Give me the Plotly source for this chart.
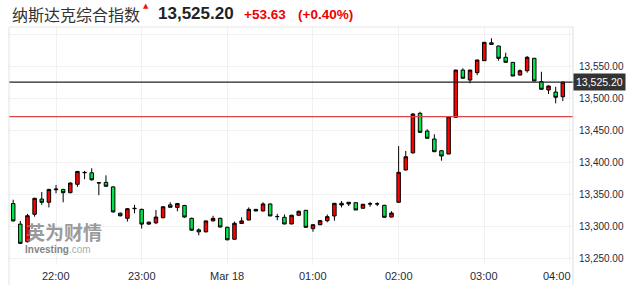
import pandas as pd
import plotly.graph_objects as go

# ---------------- data ----------------
times = pd.date_range("2021-03-17 21:30", periods=78, freq="5min")

opens = [13336, 13304, 13276.6, 13319.3, 13343, 13338, 13357.5, 13358, 13353, 13366,
         13384, 13384, 13368, 13369, 13362, 13321, 13313, 13328, 13327, 13304,
         13306, 13314, 13334, 13330, 13333, 13313, 13295, 13292, 13309, 13313,
         13299, 13280.4, 13305, 13310.4, 13327, 13324.5, 13335.4, 13315.6, 13314.6, 13304.2,
         13317.8, 13325.5, 13297, 13303, 13309.4, 13316.7, 13336.4, 13335.4, 13337.4, 13328.7,
         13335.4, 13335.4, 13333.3, 13315, 13338, 13388.3, 13415, 13476.6, 13449, 13436.6,
         13418.4, 13413.2, 13470.4, 13544, 13528.5, 13540, 13558.6, 13586.5, 13581.5, 13563.9,
         13556, 13536.3, 13543, 13562.3, 13525.9, 13513, 13509.8, 13502.5]
highs = [13342, 13309, 13320, 13345, 13354, 13359, 13365, 13359, 13369, 13387,
         13387, 13391, 13369, 13380, 13363, 13322, 13329, 13334, 13328, 13308,
         13326, 13332, 13338, 13337, 13334, 13314, 13297.5, 13309.5, 13317, 13314,
         13300, 13308, 13314.6, 13330, 13327.5, 13338, 13336, 13320, 13319, 13318.5,
         13325, 13326, 13303.5, 13309.8, 13319, 13337, 13340, 13338.5, 13338, 13335.5,
         13338.5, 13338, 13334, 13324, 13425.5, 13418, 13477, 13479, 13451.7, 13444,
         13419, 13472, 13544.5, 13546.7, 13544.5, 13560, 13588, 13593.5, 13582, 13571,
         13556.5, 13545, 13566, 13563, 13541.4, 13520, 13518, 13526]
lows = [13308, 13273, 13275.5, 13315.6, 13334, 13330, 13352, 13338, 13352, 13362,
        13374, 13372, 13349, 13362, 13322, 13316, 13308, 13321, 13297, 13303,
        13304, 13313, 13330, 13324, 13314, 13294, 13286.6, 13291, 13308.5, 13299,
        13279, 13280, 13304.5, 13310, 13324, 13324, 13316.7, 13310, 13304, 13304,
        13317.5, 13299, 13292.2, 13302.5, 13306.8, 13309.4, 13330, 13332, 13326, 13328.5,
        13331, 13332, 13314.6, 13314.5, 13337.5, 13388, 13414, 13447, 13437.7, 13416.8,
        13402.8, 13413, 13470, 13531, 13523.4, 13536, 13558.5, 13584, 13558.6, 13556,
        13534.7, 13535.5, 13540, 13527, 13514, 13506.7, 13492.2, 13495.8]
closes = [13309, 13274, 13317.1, 13344.2, 13338, 13358, 13358.5, 13353, 13368, 13386,
          13384.5, 13373, 13368.5, 13363, 13323, 13317, 13328, 13328.5, 13304, 13307,
          13315, 13331, 13330.2, 13336, 13315, 13294.5, 13292, 13309, 13313, 13299.5,
          13279.5, 13305.3, 13309, 13327, 13324.5, 13335.4, 13316.7, 13315.9, 13304.2, 13317.8,
          13324, 13299, 13303.1, 13309.4, 13315.6, 13336.4, 13333.8, 13338, 13326, 13334.9,
          13335.6, 13335.6, 13314.6, 13321.3, 13384.7, 13409, 13475.5, 13447, 13437.7, 13416.8,
          13410.1, 13471.3, 13544, 13531.2, 13544, 13559.7, 13587.2, 13584, 13562.3, 13556.1,
          13534.7, 13543, 13563.9, 13527, 13514, 13519.2, 13501.6, 13525.2]

last_price = 13525.20
prev_close = 13471.57
change_text = "+53.63"
pct_text = "(+0.40%)"
title_text = "纳斯达克综合指数"
last_text = "13,525.20"

x_tick_vals = ["2021-03-17 22:00", "2021-03-17 23:00", "2021-03-18 00:00", "2021-03-18 01:00",
               "2021-03-18 02:00", "2021-03-18 03:00", "2021-03-18 04:00"]
x_tick_text = ["22:00", "23:00", "Mar 18", "01:00", "02:00", "03:00", "04:00"]
y_tick_vals = [13250, 13300, 13350, 13400, 13450, 13500, 13550, 13600]
y_tick_text = ["13,250.00", "13,300.00", "13,350.00", "13,400.00", "13,450.00",
               "13,500.00", "13,550.00", ""]

# ---------------- layout geometry ----------------
W, H = 628, 285
ML, MR, MT, MB = 9, 55, 27, 20
PW, PH = W - ML - MR, H - MT - MB


def px(x):
    return (x - ML) / PW


def py(y):
    return (H - MB - y) / PH


fig = go.Figure()
fig.add_trace(go.Candlestick(
    x=times, open=opens, high=highs, low=lows, close=closes,
    increasing=dict(fillcolor="#ff0000", line=dict(color="#000000", width=1)),
    decreasing=dict(fillcolor="#00e64d", line=dict(color="#000000", width=1)),
    whiskerwidth=0, showlegend=False, hoverinfo="skip",
))

shapes = [
    dict(type="line", xref="paper", yref="y", x0=0, x1=1, y0=prev_close, y1=prev_close,
         line=dict(color="#dd4444", width=1.3)),
    dict(type="line", xref="paper", yref="y", x0=0, x1=1.005, y0=last_price, y1=last_price,
         line=dict(color="#222222", width=1.3)),
    # frame lines
    dict(type="line", xref="paper", yref="paper", x0=0, x1=0, y0=py(H), y1=1,
         line=dict(color="#e2e2e2", width=1)),
    dict(type="line", xref="paper", yref="paper", x0=0, x1=1, y0=1, y1=1,
         line=dict(color="#e6e6e6", width=1)),
    dict(type="line", xref="paper", yref="paper", x0=1, x1=1, y0=py(H), y1=1,
         line=dict(color="#d9dee8", width=1)),
]

ann = []
# title row
ann.append(dict(xref="paper", yref="paper", x=px(10), y=py(14), xanchor="left", yanchor="middle",
                text=title_text, showarrow=False,
                font=dict(family="Noto Sans CJK SC", size=16, color="#333333")))
ann.append(dict(xref="paper", yref="paper", x=px(145.5), y=py(5.5), xanchor="center", yanchor="middle",
                text="▲", showarrow=False, font=dict(family="DejaVu Sans", size=7, color="#ee1111")))
ann.append(dict(xref="paper", yref="paper", x=px(156), y=py(14), xanchor="left", yanchor="middle",
                text="<b>" + last_text + "</b>", showarrow=False,
                font=dict(family="Liberation Sans", size=17, color="#222222")))
ann.append(dict(xref="paper", yref="paper", x=px(242), y=py(15), xanchor="left", yanchor="middle",
                text="<b>" + change_text + "</b>", showarrow=False,
                font=dict(family="Liberation Sans", size=13.5, color="#ee0000")))
ann.append(dict(xref="paper", yref="paper", x=px(296), y=py(15), xanchor="left", yanchor="middle",
                text="<b>" + pct_text + "</b>", showarrow=False,
                font=dict(family="Liberation Sans", size=13.5, color="#ee0000")))
# watermark
ann.append(dict(xref="paper", yref="paper", x=px(24), y=py(231.5), xanchor="left", yanchor="middle",
                text="<b>英为财情</b>", showarrow=False, opacity=0.75,
                font=dict(family="Noto Sans CJK SC", size=19, color="#7a7a7a")))
ann.append(dict(xref="paper", yref="paper", x=px(23), y=py(249.5), xanchor="left", yanchor="middle",
                text="<b>Investing</b><span style='color:#999999'>.com</span>", showarrow=False,
                opacity=0.8, font=dict(family="Liberation Sans", size=10, color="#666666")))
# x tick labels
for i, (tv, tt) in enumerate(zip(x_tick_vals, x_tick_text)):
    last = i == len(x_tick_vals) - 1
    ann.append(dict(xref="paper" if last else "x", yref="paper",
                    x=1.0 if last else tv, y=py(276),
                    xanchor="right" if last else "center", yanchor="middle",
                    text=tt, showarrow=False,
                    font=dict(family="Liberation Sans", size=11, color="#1f2a3a")))
# last price box
ann.append(dict(xref="paper", yref="y", x=1, y=last_price, xanchor="left", yanchor="middle",
                xshift=0, text=last_text, showarrow=False, bgcolor="#333333", borderpad=2,
                font=dict(family="Liberation Sans", size=10.5, color="#ffffff")))

fig.update_layout(
    width=W, height=H, margin=dict(l=ML, r=MR, t=MT, b=MB, autoexpand=False),
    paper_bgcolor="white", plot_bgcolor="white",
    shapes=shapes, annotations=ann, showlegend=False,
    xaxis=dict(type="date", range=["2021-03-17 21:27:04", "2021-03-18 04:02:08"],
               rangeslider=dict(visible=False), tickvals=x_tick_vals, showticklabels=False,
               showgrid=True, gridcolor="#f1f1f1", gridwidth=1, zeroline=False, showline=False,
               ticks="", automargin=False),
    yaxis=dict(side="right", range=[13240.3, 13611.1], tickvals=y_tick_vals, ticktext=y_tick_text,
               showgrid=True, gridcolor="#f1f1f1", gridwidth=1, zeroline=False, showline=False,
               ticks="", ticklabelstandoff=5, automargin=False,
               tickfont=dict(family="Liberation Sans", size=10, color="#1f2a3a")),
)

fig.write_html("out.html")
